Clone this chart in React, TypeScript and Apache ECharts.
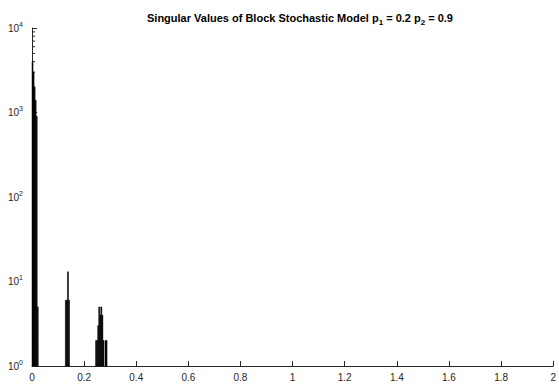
import React, { useEffect, useRef } from "react";
import * as echarts from "echarts";

const binWidth = 0.004;
const binStarts = [0, 0.004, 0.008, 0.012, 0.016, 0.02, 0.128, 0.132, 0.136, 0.14, 0.244, 0.248, 0.252, 0.256, 0.26, 0.264, 0.268, 0.272, 0.28, 0.284];
const counts = [4000, 3000, 2000, 1400, 900, 5, 6, 6, 13, 6, 2, 2, 3, 5, 4, 5, 4, 2, 2, 2];
const xTicks = [0, 0.2, 0.4, 0.6, 0.8, 1, 1.2, 1.4, 1.6, 1.8, 2];
const yDecades = [1, 10, 100, 1000, 10000];
const minorTickValues: number[] = [];
for (let d = 0; d < yDecades.length - 1; d++) {
  for (let m = 2; m <= 9; m++) minorTickValues.push(m * yDecades[d]);
}

const AXIS = "#262626";

export default function App() {
  const ref = useRef<HTMLDivElement>(null);
  useEffect(() => {
    if (!ref.current) return;
    const chart = echarts.init(ref.current, null, { renderer: "svg" });
    const histData = binStarts.map((s, i) => [s, s + binWidth, counts[i]]);
    chart.setOption({
      animation: false,
      backgroundColor: "#ffffff",
      title: {
        text: "Singular Values of Block Stochastic Model p{sub|1} = 0.2 p{sub|2} = 0.9",
        left: 295,
        textAlign: "center",
        top: 5,
        textStyle: {
          fontFamily: "Liberation Sans",
          fontWeight: "bold",
          fontSize: 11,
          color: "#000",
          rich: {
            sub: {
              fontFamily: "Liberation Sans",
              fontWeight: "bold",
              fontSize: 8,
              color: "#000",
              padding: [8, 0, 0, 0],
            },
          },
        },
      },
      grid: { left: 32, right: 2, top: 28, bottom: 19, containLabel: false },
      xAxis: {
        type: "value",
        min: xTicks[0],
        max: xTicks[xTicks.length - 1],
        interval: 0.2,
        axisLine: { show: true, lineStyle: { color: AXIS, width: 1 } },
        axisTick: { show: true, inside: true, length: 5, lineStyle: { color: AXIS } },
        axisLabel: {
          color: AXIS,
          fontFamily: "Liberation Sans",
          fontSize: 10,
          margin: 6,
          showMaxLabel: true,
        },
        splitLine: { show: false },
      },
      yAxis: {
        type: "log",
        logBase: 10,
        min: yDecades[0],
        max: yDecades[yDecades.length - 1],
        axisLine: { show: true, lineStyle: { color: AXIS, width: 1 } },
        axisTick: { show: true, inside: true, length: 5, lineStyle: { color: AXIS } },
        axisLabel: {
          color: AXIS,
          fontFamily: "Liberation Sans",
          fontSize: 10,
          margin: 9,
          formatter: (v: number) => `10{sup|${Math.round(Math.log10(v))}}`,
          rich: {
            sup: {
              fontFamily: "Liberation Sans",
              fontSize: 7,
              color: AXIS,
              padding: [0, 0, 8, 0],
            },
          },
        },
        splitLine: { show: false },
      },
      series: [
        {
          type: "custom",
          name: "minorTicks",
          data: minorTickValues.map((v) => [0, v]),
          encode: { x: 0, y: 1 },
          z: 1,
          renderItem: (params: any, api: any) => {
            const p = api.coord([api.value(0), api.value(1)]);
            return {
              type: "line",
              shape: { x1: p[0], y1: p[1], x2: p[0] + 3, y2: p[1] },
              style: { stroke: AXIS, lineWidth: 1 },
            };
          },
        },
        {
          type: "custom",
          name: "hist",
          data: histData,
          encode: { x: [0, 1], y: 2 },
          z: 2,
          renderItem: (params: any, api: any) => {
            const p0 = api.coord([api.value(0), api.value(2)]);
            const p1 = api.coord([api.value(1), yDecades[0]]);
            return {
              type: "rect",
              shape: { x: p0[0], y: p0[1], width: p1[0] - p0[0], height: p1[1] - p0[1] },
              style: { fill: "#000", stroke: "#000", lineWidth: 0.5 },
            };
          },
        },
      ],
    });
    return () => chart.dispose();
  }, []);
  return (
    <div
      ref={ref}
      style={{ position: "fixed", left: 0, top: 0, width: 559, height: 385 }}
    />
  );
}
